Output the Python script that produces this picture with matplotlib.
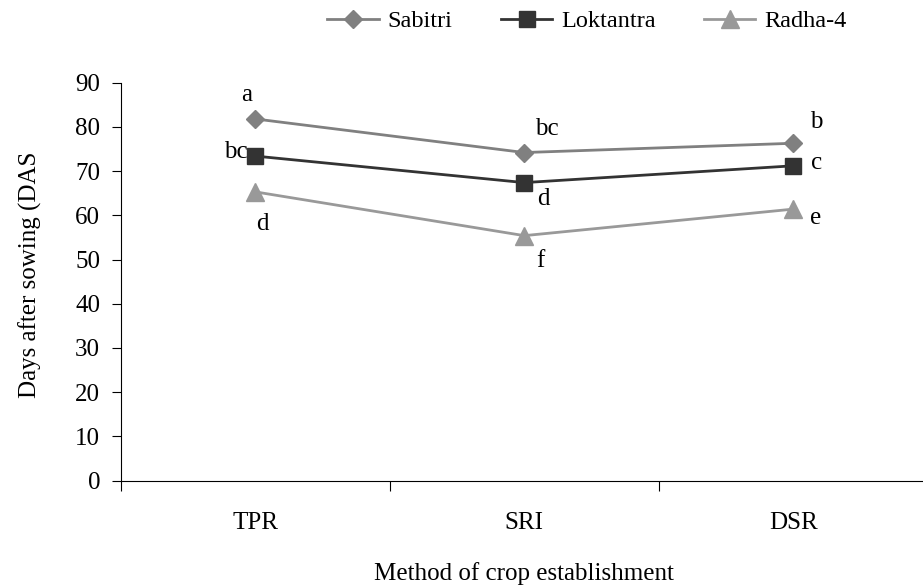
import matplotlib
matplotlib.use("Agg")
import matplotlib.pyplot as plt

methods = ["TPR", "SRI", "DSR"]
sabitri = [81.8, 74.2, 76.3]
loktantra = [73.4, 67.4, 71.2]
radha = [65.3, 55.4, 61.4]

sabitri_letters = ["a", "bc", "b"]
loktantra_letters = ["bc", "d", "c"]
radha_letters = ["d", "f", "e"]

plt.rcParams["font.family"] = ["Liberation Serif", "DejaVu Serif"]
plt.rcParams["font.size"] = 18

fig = plt.figure(figsize=(9.23, 5.87), dpi=100)
ax = fig.add_axes([0.131, 0.1814, 0.874, 0.6777])

x = range(len(methods))
ax.plot(x, sabitri, color="#808080", lw=2, marker="D", ms=9, label="Sabitri")
ax.plot(x, loktantra, color="#333333", lw=2, marker="s", ms=12, label="Loktantra")
ax.plot(x, radha, color="#999999", lw=2, marker="^", ms=13.5, label="Radha-4")

# significance letters beside each point (offsets in points)
offsets_s = [(-6.5, 17), (16, 17), (17, 15)]
offsets_l = [(-14, 3), (14, -11.5), (16.5, 2)]
offsets_r = [(5, -23), (11.5, -18), (16, -6.5)]
for vals, letters, offs in [(sabitri, sabitri_letters, offsets_s),
                            (loktantra, loktantra_letters, offsets_l),
                            (radha, radha_letters, offsets_r)]:
    for i, (v, t) in enumerate(zip(vals, letters)):
        ax.annotate(t, (i, v), xytext=offs[i], textcoords="offset points",
                    ha="center", va="center")

ax.set_xlim(-0.5, 2.5)
ax.set_ylim(0, 90)
ax.set_yticks(range(0, 91, 10))
ax.set_xticks([-0.5, 0.5, 1.5, 2.5])
ax.set_xticklabels([])
ax.set_xticks(list(x), minor=True)
ax.set_xticklabels(methods, minor=True)
ax.tick_params(axis="x", which="minor", length=0, pad=23)
ax.tick_params(axis="x", which="major", length=7, direction="out")
ax.tick_params(axis="y", length=6.5, direction="out", pad=8.5)
for side in ["top", "right"]:
    ax.spines[side].set_visible(False)

ax.set_xlabel("Method of crop establishment")
ax.xaxis.set_label_coords(0.5, -0.205)
ax.set_ylabel("Days after sowing (DAS")
ax.yaxis.set_label_coords(-0.098, 0.517)

fig.legend(loc="center", bbox_to_anchor=(0.636, 0.964), ncol=3, frameon=False,
           handlelength=2.1, columnspacing=2.0, handletextpad=0.37,
           fontsize=17.5)

fig.savefig("out.png", dpi=100)
